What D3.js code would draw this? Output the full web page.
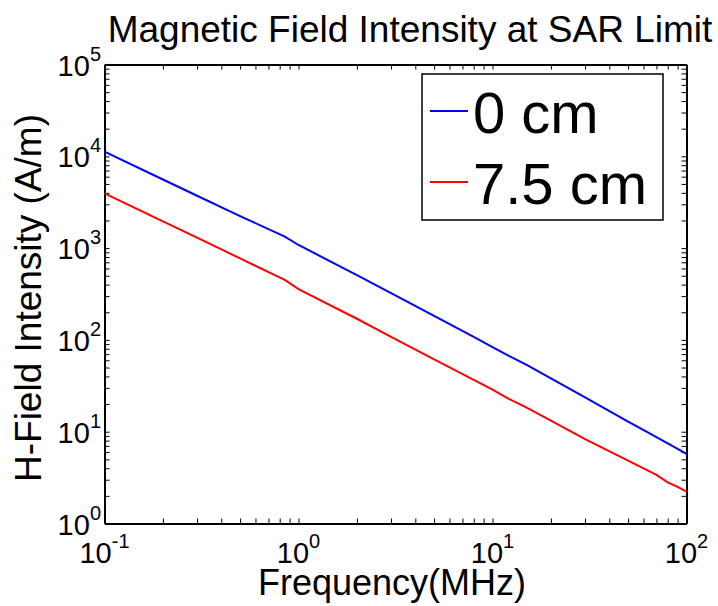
<!DOCTYPE html>
<html>
<head>
<meta charset="utf-8">
<script src="https://cdn.jsdelivr.net/npm/d3@7"></script>
<style>
  body { margin: 0; background: #fff; }
  svg { display: block; font-family: Arial, "Liberation Sans", sans-serif; }
</style>
</head>
<body>
<svg width="718" height="606"></svg>
<script>
// frequencies (MHz)
const freqs = [0.1, 0.2, 0.3, 0.5, 0.85, 1, 2, 3, 5, 8, 10, 12, 15, 20, 30, 50, 70, 80, 90, 100];
// H-field (A/m) at 0 cm and 7.5 cm depth
const h0cm = [11220, 5590, 3720, 2230, 1331, 1081, 509, 323, 183, 108, 83.3, 68, 53.3, 38, 23.6, 12.9, 8.71, 7.44, 6.48, 5.72];
const h75cm = [3955, 1959, 1298, 772, 450, 358, 170, 108, 61.5, 36.6, 28.8, 23.1, 18.3, 13.2, 8.3, 4.83, 3.38, 2.81, 2.5, 2.22];
const seriesNames = ['0 cm', '7.5 cm'];
const seriesColors = ['#0000ff', '#ff0000'];
const xTickExps = [-1, 0, 1, 2];
const yTickExps = [0, 1, 2, 3, 4, 5];

const plotL = 104.5, plotR = 686.5, plotT = 64.5, plotB = 523.5;
const svg = d3.select('svg');

const x = d3.scaleLog().domain([0.1, 100]).range([plotL, plotR]);
const y = d3.scaleLog().domain([1, 1e5]).range([plotB, plotT]);

// inward ticks on all four sides (major + minor)
const tick = 5;
const axes = [
  [d3.axisBottom(x).tickValues(x.ticks()), `translate(0,${plotB})`],
  [d3.axisTop(x).tickValues(x.ticks()), `translate(0,${plotT})`],
  [d3.axisLeft(y).tickValues(y.ticks()), `translate(${plotL},0)`],
  [d3.axisRight(y).tickValues(y.ticks()), `translate(${plotR},0)`],
];
axes.forEach(([ax, tr]) => {
  const g = svg.append('g').attr('transform', tr)
    .call(ax.tickSize(-tick).tickSizeOuter(0).tickFormat(''));
  g.select('.domain').attr('stroke', '#000').attr('stroke-width', 2);
  g.selectAll('.tick line').attr('stroke', '#000').attr('stroke-width', 1);
});

// lines
const line = d3.line().x((d, i) => x(freqs[i])).y(d => y(d));
[h0cm, h75cm].forEach((s, k) => {
  svg.append('path').datum(s)
    .attr('d', line)
    .attr('fill', 'none')
    .attr('stroke', seriesColors[k])
    .attr('stroke-width', 2);
});

// tick labels
xTickExps.forEach(e => {
  const t = svg.append('text')
    .attr('x', x(Math.pow(10, e)))
    .attr('y', 563)
    .attr('text-anchor', 'middle')
    .attr('font-size', 29);
  t.append('tspan').text('10');
  t.append('tspan').attr('dy', -15).attr('font-size', 20).text(e);
});
yTickExps.forEach(e => {
  const t = svg.append('text')
    .attr('x', 101)
    .attr('y', y(Math.pow(10, e)) + 11)
    .attr('text-anchor', 'end')
    .attr('font-size', 29);
  t.append('tspan').text('10');
  t.append('tspan').attr('dy', -15).attr('font-size', 20).text(e);
});

// title and axis labels
svg.append('text')
  .attr('x', 410).attr('y', 42)
  .attr('text-anchor', 'middle')
  .attr('font-size', 37)
  .text('Magnetic Field Intensity at SAR Limit');

svg.append('text')
  .attr('x', 392).attr('y', 595)
  .attr('text-anchor', 'middle')
  .attr('font-size', 36)
  .text('Frequency(MHz)');

svg.append('text')
  .attr('transform', 'translate(41,298) rotate(-90)')
  .attr('text-anchor', 'middle')
  .attr('font-size', 37)
  .text('H-Field Intensity (A/m)');

// legend
const lg = svg.append('g');
lg.append('rect')
  .attr('x', 422).attr('y', 74)
  .attr('width', 241).attr('height', 146)
  .attr('fill', '#fff')
  .attr('stroke', '#000')
  .attr('stroke-width', 1.5);
seriesNames.forEach((name, i) => {
  const yy = 111 + i * 71;
  lg.append('line')
    .attr('x1', 430).attr('x2', 468)
    .attr('y1', yy).attr('y2', yy)
    .attr('stroke', seriesColors[i])
    .attr('stroke-width', 2);
  lg.append('text')
    .attr('x', 473).attr('y', yy + 22)
    .attr('font-size', 58)
    .text(name);
});
</script>
</body>
</html>
